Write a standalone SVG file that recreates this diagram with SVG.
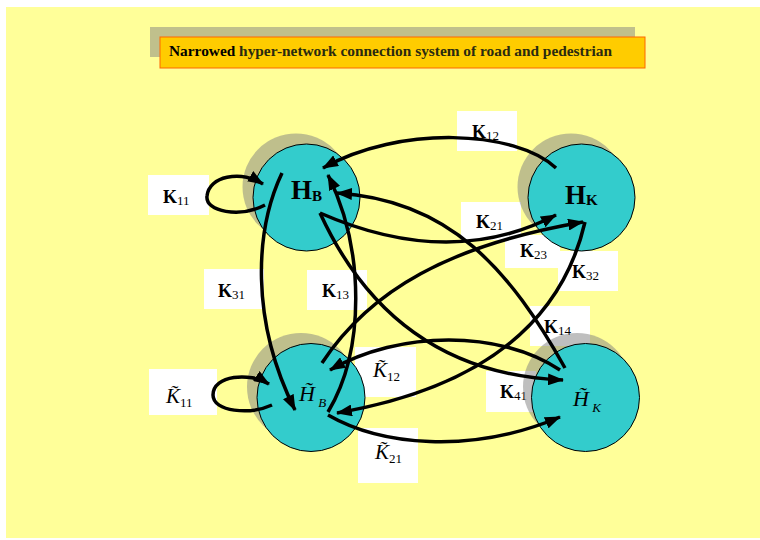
<svg xmlns="http://www.w3.org/2000/svg" width="760" height="540" viewBox="0 0 760 540">
<style>
.lbl{fill:#fff}
.k{font-family:"Liberation Serif","Times New Roman",serif;font-size:18px;font-weight:bold;fill:#000}
.sub{font-weight:normal;font-size:13px}
.kt{font-family:"Liberation Serif","Times New Roman",serif;font-size:21px;font-style:italic;fill:#000}
.subt{font-style:normal;font-size:13px}
.node{fill:#33CCCC;stroke:#000;stroke-width:1}
.shadow{fill:#7f7f7f;opacity:0.5}
.hn{font-family:"Liberation Serif","Times New Roman",serif;font-size:27px;font-weight:bold;fill:#000}
.hsub{font-size:15px}
.ht{font-family:"Liberation Serif","Times New Roman",serif;font-size:22px;font-style:italic;fill:#000}
.htsub{font-size:13px}
.c{fill:none;stroke:#000;stroke-width:3.5}
</style>
<defs>
<marker id="ah" markerUnits="userSpaceOnUse" markerWidth="16" markerHeight="12" viewBox="0 0 16 12" refX="15" refY="6" orient="auto">
<path d="M0,0 L16,6 L0,12 z" fill="#000"/>
</marker>
</defs>
<rect x="0" y="0" width="760" height="540" fill="#fff"/>
<rect x="6" y="7" width="754" height="531" fill="#FFFF99"/>
<g id="title">
<rect x="150" y="27" width="485" height="30" fill="#C0C08C"/>
<rect x="160" y="37" width="485" height="31" fill="#FFCC00" stroke="#FF6600" stroke-width="1"/>
<text x="169" y="56" font-family="Liberation Serif,Times New Roman,serif" font-size="14" font-weight="bold" textLength="443" lengthAdjust="spacingAndGlyphs"><tspan fill="#000">Narrowed</tspan><tspan fill="#2a2a10"> hyper-network connection system of road and pedestrian</tspan></text>
</g>
<g id="labels">
<rect class="lbl" x="148" y="175" width="61" height="40"/>
<text class="k" x="163" y="203">K<tspan class="sub" dy="2">11</tspan></text>
<rect class="lbl" x="204" y="269" width="60" height="40"/>
<text class="k" x="218" y="297">K<tspan class="sub" dy="2">31</tspan></text>
<rect class="lbl" x="307" y="270" width="60" height="40"/>
<text class="k" x="322" y="297">K<tspan class="sub" dy="2">13</tspan></text>
<rect class="lbl" x="457" y="111" width="60" height="40"/>
<text class="k" x="472" y="138">K<tspan class="sub" dy="2">12</tspan></text>
<rect class="lbl" x="461" y="202" width="60" height="38"/>
<text class="k" x="476" y="228">K<tspan class="sub" dy="2">21</tspan></text>
<rect class="lbl" x="505" y="235" width="55" height="33"/>
<text class="k" x="520" y="257">K<tspan class="sub" dy="2">23</tspan></text>
<rect class="lbl" x="558" y="251" width="60" height="40"/>
<text class="k" x="572" y="278">K<tspan class="sub" dy="2">32</tspan></text>
<rect class="lbl" x="530" y="306" width="60" height="40"/>
<text class="k" x="544" y="333">K<tspan class="sub" dy="2">14</tspan></text>
<rect class="lbl" x="486" y="371" width="50" height="41"/>
<text class="k" x="500" y="398">K<tspan class="sub" dy="2">41</tspan></text>
<rect class="lbl" x="355" y="347" width="61" height="50"/>
<text class="kt" x="373" y="377">K̃<tspan class="subt" dy="4">12</tspan></text>
<rect class="lbl" x="358" y="428" width="60" height="55"/>
<text class="kt" x="375" y="459">K̃<tspan class="subt" dy="4">21</tspan></text>
<rect class="lbl" x="149" y="369" width="68" height="46"/>
<text class="kt" x="166" y="403">K̃<tspan class="subt" dy="4">11</tspan></text>
</g>
<g id="HB">
<circle class="shadow" cx="296" cy="187" r="53.5"/>
<circle class="node" cx="306.5" cy="197.5" r="53.5"/>
<text class="hn" x="291" y="199">H<tspan class="hsub" dy="2">B</tspan></text>
</g>
<g id="HK">
<circle class="shadow" cx="571" cy="187" r="53.5"/>
<circle class="node" cx="581.5" cy="197.5" r="53.5"/>
<text class="hn" x="565" y="204">H<tspan class="hsub" dy="1">K</tspan></text>
</g>
<g id="HtB">
<circle class="shadow" cx="301" cy="387" r="54"/>
<circle class="node" cx="311" cy="397.5" r="54"/>
<text class="ht" x="299" y="401">H̃<tspan class="htsub" dy="6"> B</tspan></text>
</g>
<g id="HtK">
<circle class="shadow" cx="577" cy="387" r="54"/>
<circle class="node" cx="585.5" cy="397.5" r="54"/>
<text class="ht" x="573" y="406">H̃<tspan class="htsub" dy="6"> K</tspan></text>
</g>
<g id="connectors" class="c" marker-end="url(#ah)">
<path class="c" marker-end="url(#ah)" d="M265,205 C240,218 205,212 207,196 C209,176 240,170 263,184"/>
<path class="c" marker-end="url(#ah)" d="M272,405 C250,415 213,412 213,395 C213,375 250,372 269,384"/>
<path class="c" marker-end="url(#ah)" d="M556,168 C515,130 400,125 323,168"/>
<path class="c" marker-end="url(#ah)" d="M320,213 Q450,270 556,215"/>
<path class="c" marker-end="url(#ah)" d="M322,363 C370,290 450,245 583,222"/>
<path class="c" marker-end="url(#ah)" d="M585,222 C560,330 470,390 337,413"/>
<path class="c" marker-end="url(#ah)" d="M282,173 C255,230 250,320 295,410"/>
<path class="c" marker-end="url(#ah)" d="M328,412 C365,350 365,250 328,175"/>
<path class="c" marker-end="url(#ah)" d="M565,368 C510,270 450,200 337,193"/>
<path class="c" marker-end="url(#ah)" d="M320,213 C360,300 430,375 563,380"/>
<path class="c" marker-end="url(#ah)" d="M560,370 C500,330 400,330 330,370"/>
<path class="c" marker-end="url(#ah)" d="M328,415 C380,445 470,455 560,417"/>
</g>
</svg>
